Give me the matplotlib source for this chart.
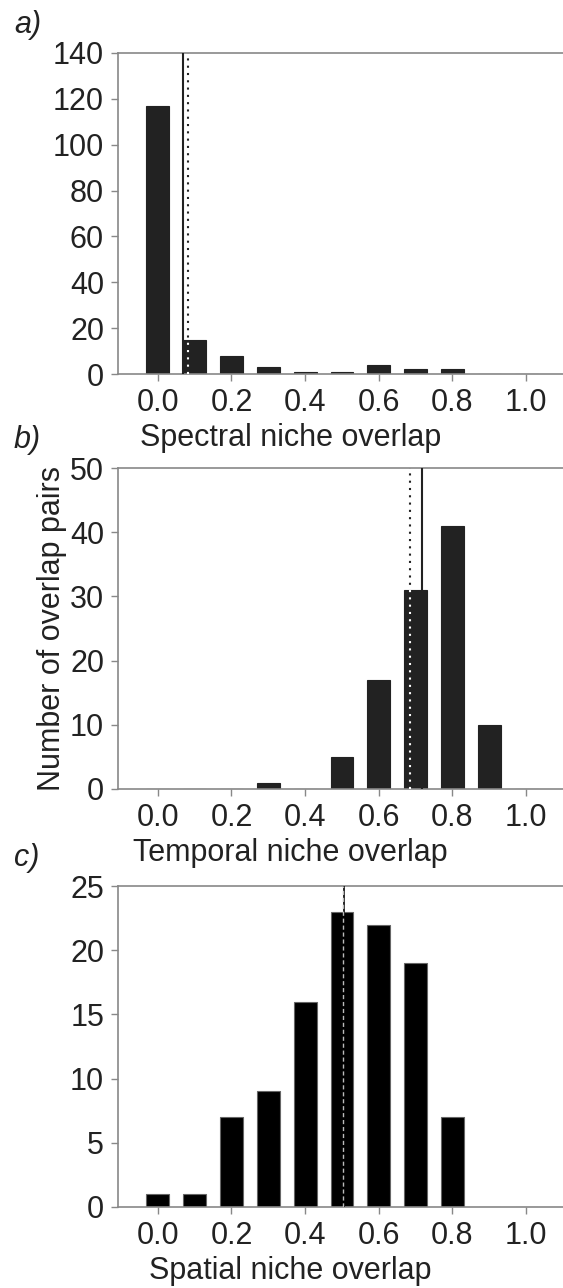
import matplotlib.pyplot as plt

plt.rcParams['font.family'] = ['Liberation Sans', 'DejaVu Sans']

bins = [0.0, 0.1, 0.2, 0.3, 0.4, 0.5, 0.6, 0.7, 0.8, 0.9, 1.0]

spectral_counts = [117, 15, 8, 3, 1, 1, 4, 2, 2, 0, 0]
temporal_counts = [0, 0, 0, 1, 0, 5, 17, 31, 41, 10, 0]
spatial_counts = [1, 1, 7, 9, 16, 23, 22, 19, 7, 0, 0]

# observed (solid) and null (dotted / dashed) means
spectral_lines = [0.068, 0.081]
temporal_lines = [0.718, 0.686]
spatial_lines = [0.505, 0.503]

panels = [
    ("a)", spectral_counts, "Spectral niche overlap", [0, 20, 40, 60, 80, 100, 120, 140], spectral_lines, "#222222", 1),
    ("b)", temporal_counts, "Temporal niche overlap", [0, 10, 20, 30, 40, 50], temporal_lines, "#222222", 7),
    ("c)", spatial_counts, "Spatial niche overlap", [0, 5, 10, 15, 20, 25], spatial_lines, "#000000", 5),
]

W, H = 563, 1288
fig = plt.figure(figsize=(W / 100, H / 100), dpi=100)
tops = [53, 468, 886]
height_px = 321
left_px = 118

for i, (tag, counts, xlabel, yticks, lines, col, hit) in enumerate(panels):
    top = tops[i]
    ax = fig.add_axes([left_px / W, 1 - (top + height_px) / H, (W - left_px) / W, height_px / H])
    edge = "#666666" if i == 2 else col
    ax.bar(bins, counts, width=0.062, color=col, edgecolor=edge, linewidth=0.8, zorder=2)
    if i == 2:
        ax.axvline(lines[0], color="black", lw=1.2, zorder=3)
        ax.axvline(lines[1], color="#bbbbbb", lw=1.0, ls=(0, (3, 2)), zorder=4)
    else:
        ax.axvline(lines[0], color="#222222", lw=1.5, zorder=3)
        ax.axvline(lines[1], color="#222222", lw=1.5, ls=(0, (1, 2.5)), zorder=1)
        ax.axvline(lines[1], color="white", lw=1.5, ls=(0, (1, 2.5)), zorder=3,
                   ymax=counts[hit] / yticks[-1])
    ax.set_xlim(-0.108, 1.1)
    ax.set_ylim(0, yticks[-1])
    ax.set_yticks(yticks)
    ax.set_xticks([0.0, 0.2, 0.4, 0.6, 0.8, 1.0])
    ax.set_xticklabels(["0.0", "0.2", "0.4", "0.6", "0.8", "1.0"])
    ax.spines['right'].set_visible(False)
    for s in ['left', 'bottom', 'top']:
        ax.spines[s].set_color("#888888")
        ax.spines[s].set_linewidth(1.2)
    ax.tick_params(direction='out', length=5, width=1, color="#888888",
                   labelsize=22, labelcolor="#222222", pad=5)
    ax.set_xlabel(xlabel, fontsize=22, color="#222222", labelpad=4)
    ax.xaxis.label.set_x(0.387)
    fig.text(14 / W, 1 - (top - 28) / H, tag, fontsize=22, style='italic',
             color="#222222", va='center', ha='left')
    if i == 1:
        ax.set_ylabel("Number of overlap pairs", fontsize=22, color="#222222", labelpad=2)

fig.savefig("out.png", dpi=100)
plt.close(fig)
